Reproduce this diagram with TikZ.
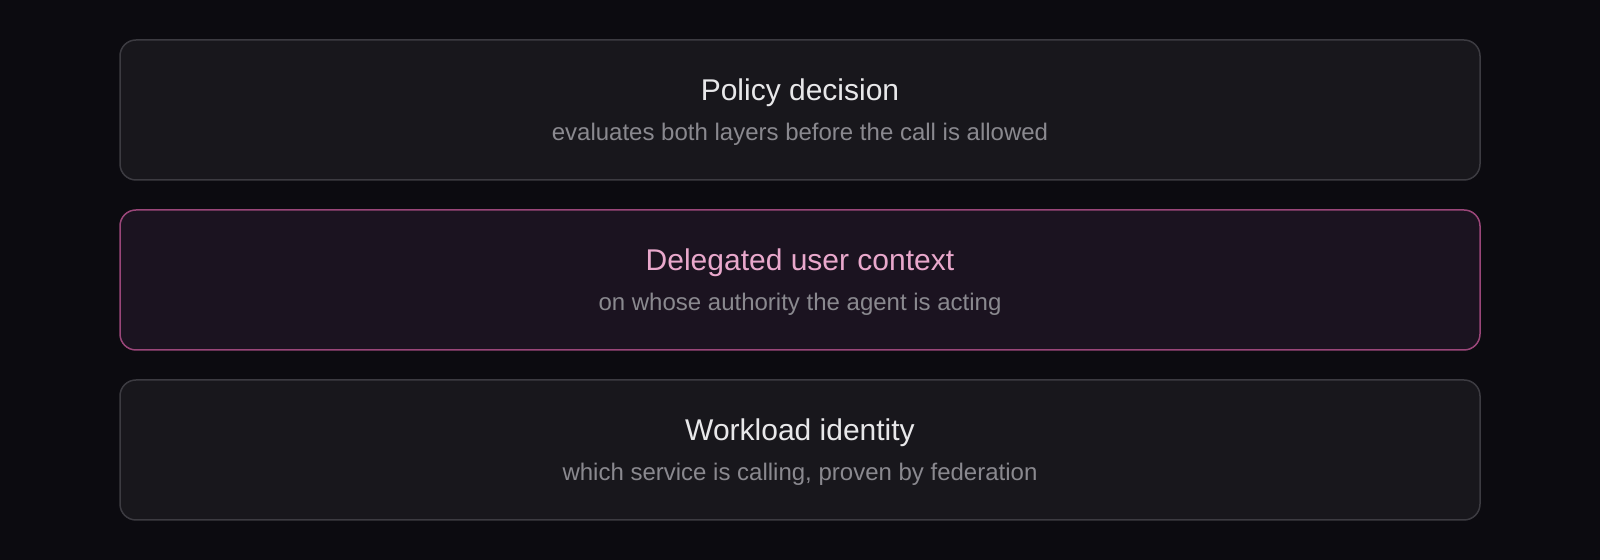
\documentclass[tikz,border=0pt]{standalone}
\usepackage{fontspec}
\setmainfont{Liberation Sans}
\usetikzlibrary{positioning}

\definecolor{pagebg}{HTML}{0C0B10}
\definecolor{cardfill}{HTML}{18171C}
\definecolor{cardline}{HTML}{3C3B41}
\definecolor{userfill}{HTML}{1B1320}
\definecolor{userline}{HTML}{9A4679}
\definecolor{usertext}{HTML}{E9A8CC}
\definecolor{titlecol}{HTML}{E8E8EA}
\definecolor{subcol}{HTML}{8A898F}

\tikzset{
    card/.style={rectangle, rounded corners=8pt, draw=cardline, fill=cardfill,
        line width=0.75pt, minimum width=680pt, minimum height=70pt,
        inner sep=0pt, outer sep=0pt},
    usercard/.style={draw=userline, fill=userfill},
    titletext/.style={anchor=base, inner sep=0pt, text=titlecol,
        font=\fontsize{15pt}{18pt}\selectfont},
    subtext/.style={anchor=base, inner sep=0pt, text=subcol,
        font=\fontsize{12pt}{14pt}\selectfont}
}

\begin{document}
\begin{tikzpicture}[x=0.5pt, y=0.5pt, node distance=15pt]
    \fill[pagebg] (0,0) rectangle (1600,560);
    \useasboundingbox (0,0) rectangle (1600,560);

    \node[card] (policy) at (800,450) {};
    \node[card, usercard, below=of policy] (user) {};
    \node[card, below=of user] (workload) {};

    \node[titletext] (policytitle) at ([yshift=-30.5pt]policy.north) {Policy decision};
    \node[subtext] (policysub) at ([yshift=-50.5pt]policy.north) {evaluates both layers before the call is allowed};

    \node[titletext, text=usertext] (usertitle) at ([yshift=-30.5pt]user.north) {Delegated user context};
    \node[subtext] (usersub) at ([yshift=-50.5pt]user.north) {on whose authority the agent is acting};

    \node[titletext] (workloadtitle) at ([yshift=-30.5pt]workload.north) {Workload identity};
    \node[subtext] (workloadsub) at ([yshift=-50.5pt]workload.north) {which service is calling, proven by federation};
\end{tikzpicture}
\end{document}
